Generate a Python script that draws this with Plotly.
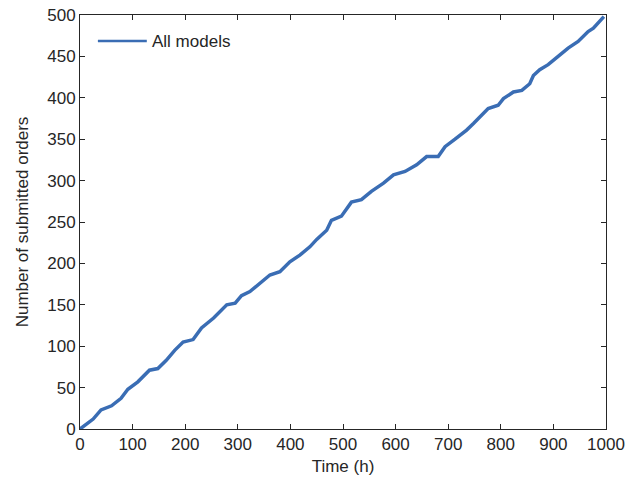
import plotly.graph_objects as go

time_h = [0, 6, 25, 40, 60, 78, 91, 110, 132, 148, 164, 180, 196, 215, 231, 254,
          279, 295, 307, 323, 345, 361, 380, 399, 418, 437, 450, 469, 478, 491, 497,
          516, 535, 554, 577, 596, 618, 640, 659, 681, 694, 713, 735, 748, 776, 795,
          805, 824, 840, 855, 862, 874, 890, 909, 928, 947, 966, 976, 992, 996]
orders = [0, 3, 12, 23, 28, 37, 48, 57, 71, 73, 83, 95, 105, 108, 122, 134,
          150, 152, 161, 166, 178, 186, 190, 202, 210, 220, 229, 240, 252, 256, 257,
          274, 277, 287, 297, 307, 311, 319, 329, 329, 341, 350, 361, 369, 387, 391,
          399, 407, 409, 417, 427, 434, 440, 450, 460, 468, 480, 484, 496, 498]

x_ticks = list(range(0, 1001, 100))
y_ticks = list(range(0, 501, 50))
series_name = "All models"

FONT = "Liberation Sans, Arial"
LINE_COLOR = "#3A6DB4"
AX_COLOR = "#262626"

fig = go.Figure()
fig.add_trace(go.Scatter(x=time_h, y=orders, mode="lines", name=series_name,
                         showlegend=False,
                         line=dict(color=LINE_COLOR, width=3.5)))

axis_common = dict(showline=True, linecolor=AX_COLOR, linewidth=1, mirror="ticks",
                   ticks="inside", ticklen=5, tickcolor=AX_COLOR, showgrid=False,
                   zeroline=False, automargin=False,
                   tickfont=dict(family=FONT, size=17, color=AX_COLOR))

# legend drawn as a short line + text (MATLAB-style long legend sample)
fig.add_shape(type="line", xref="paper", yref="paper", x0=0.034, x1=0.127,
              y0=0.937, y1=0.937, line=dict(color=LINE_COLOR, width=2.5))
fig.add_annotation(xref="paper", yref="paper", x=0.133, y=0.937, text=series_name,
                   showarrow=False, xanchor="left", yanchor="middle",
                   font=dict(family=FONT, size=17, color=AX_COLOR))

fig.update_layout(
    width=636, height=481,
    margin=dict(l=80, r=30, t=15, b=52),
    paper_bgcolor="white", plot_bgcolor="white",
    font=dict(family=FONT, size=17, color=AX_COLOR),
    xaxis=dict(range=[0, 1000], tickvals=x_ticks,
               title=dict(text="Time (h)", standoff=6, font=dict(size=17)), **axis_common),
    yaxis=dict(range=[0, 500], tickvals=y_ticks,
               title=dict(text="Number of submitted orders", standoff=14, font=dict(size=17)), **axis_common),
    showlegend=False,
)

fig.write_html("out.html")
